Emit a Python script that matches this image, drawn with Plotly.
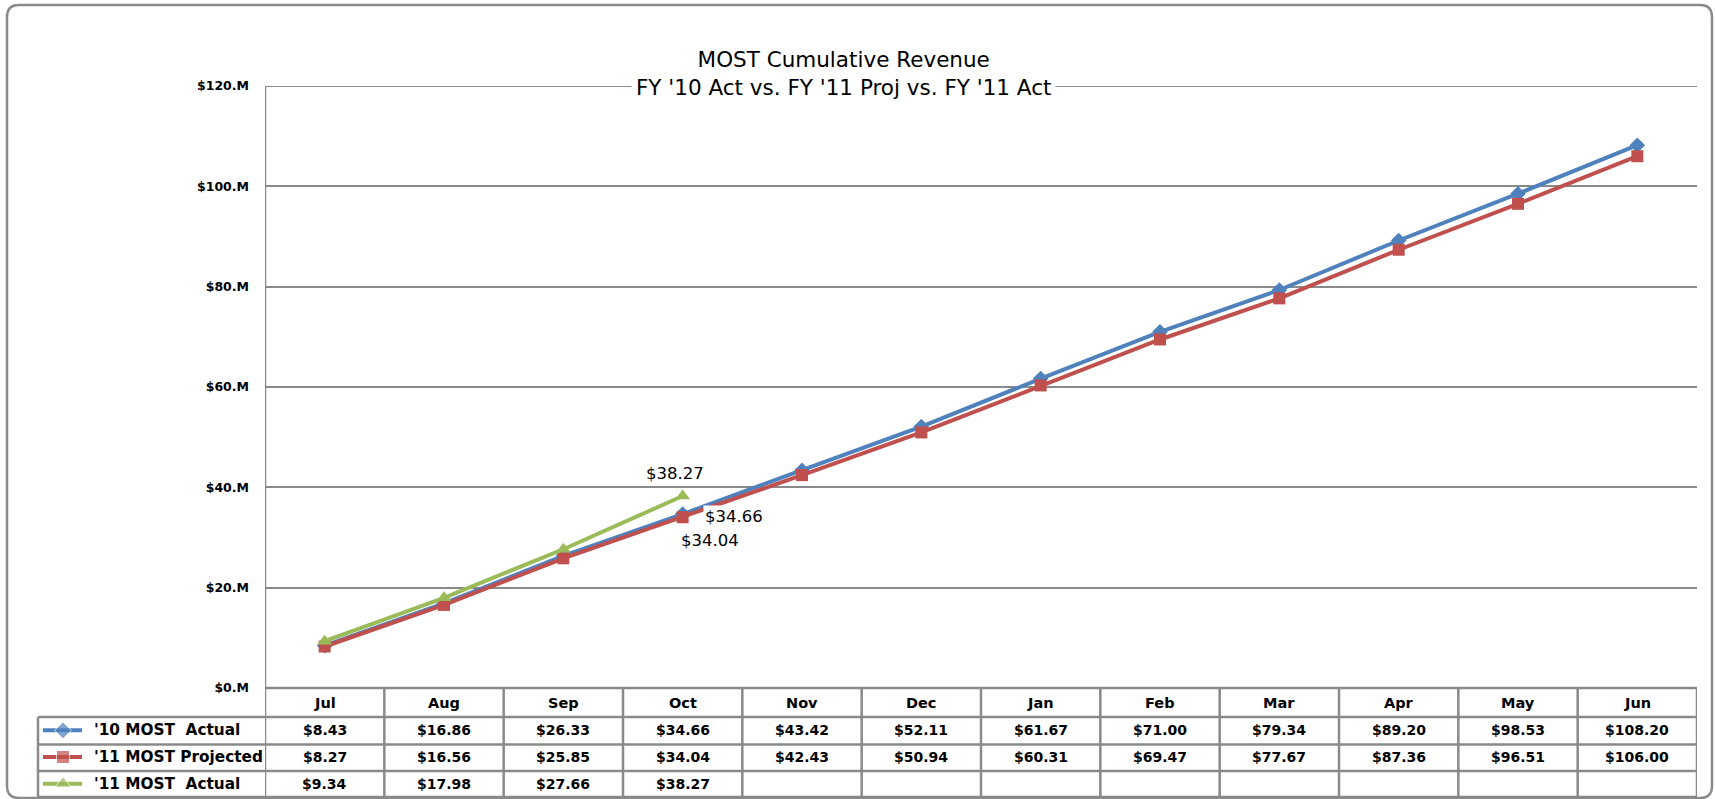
import plotly.graph_objects as go

# ---------------- data ----------------
months = ['Jul', 'Aug', 'Sep', 'Oct', 'Nov', 'Dec', 'Jan', 'Feb', 'Mar', 'Apr', 'May', 'Jun']
fy10_actual = [8.43, 16.86, 26.33, 34.66, 43.42, 52.11, 61.67, 71.00, 79.34, 89.20, 98.53, 108.20]
fy11_projected = [8.27, 16.56, 25.85, 34.04, 42.43, 50.94, 60.31, 69.47, 77.67, 87.36, 96.51, 106.00]
fy11_actual = [9.34, 17.98, 27.66, 38.27]
series_names = ["'10 MOST  Actual", "'11 MOST Projected", "'11 MOST  Actual"]
ytick_vals = [0, 20, 40, 60, 80, 100, 120]
ytick_text = ['$0.M', '$20.M', '$40.M', '$60.M', '$80.M', '$100.M', '$120.M']
title_lines = ['MOST Cumulative Revenue', "FY '10 Act vs. FY '11 Proj vs. FY '11 Act"]

# ---------------- styling ----------------
W, H = 1715, 799
BLUE, RED, GREEN = '#4F81BD', '#C0504D', '#9BBB59'
GRID = '#8a8a8a'
FONT = 'DejaVu Sans'

def px(x):
    return x / W

def py(y):
    return 1 - y / H

PLOT_L, PLOT_R = 265, 1697
PLOT_T, PLOT_B = 86, 688
ROW_T, ROW_B = 717, 797
LEG_L = 38

series = [fy10_actual, fy11_projected, fy11_actual]
colors = [BLUE, RED, GREEN]
symbols = ['diamond', 'square', 'triangle-up']
msizes = [12, 12, 13]

fig = go.Figure()

for name, vals, col, sym, ms in zip(series_names, series, colors, symbols, msizes):
    fig.add_trace(go.Scatter(
        x=list(range(len(vals))), y=vals, name=name, mode='lines+markers',
        line=dict(color=col, width=4),
        marker=dict(symbol=sym, size=ms, color=col),
        showlegend=False, hoverinfo='skip', xaxis='x', yaxis='y'))

# legend icons inside the table's first column
for i, (col, sym, ms) in enumerate(zip(colors, symbols, msizes)):
    fig.add_trace(go.Scatter(
        x=[5, 25, 44], y=[i, i, i], mode='lines+markers',
        line=dict(color=col, width=4),
        marker=dict(symbol=sym, size=[0, ms + 1, 0], color=col),
        showlegend=False, hoverinfo='skip', xaxis='x2', yaxis='y2'))

shapes = []
line_style = dict(color=GRID, width=2.5)
# top gridline of the plot area
shapes.append(dict(type='line', xref='paper', yref='y', x0=px(PLOT_L), x1=px(PLOT_R),
                   y0=ytick_vals[-1], y1=ytick_vals[-1], line=dict(color=GRID, width=2)))
# horizontal table lines
shapes.append(dict(type='line', xref='paper', yref='paper', x0=px(PLOT_L), x1=px(PLOT_R),
                   y0=py(PLOT_B), y1=py(PLOT_B), line=line_style))
for yy in [717, 744.5, 771, 797]:
    shapes.append(dict(type='line', xref='paper', yref='paper', x0=px(LEG_L), x1=px(PLOT_R),
                       y0=py(yy), y1=py(yy), line=line_style))
# vertical table lines
shapes.append(dict(type='line', xref='paper', yref='paper', x0=px(LEG_L), x1=px(LEG_L),
                   y0=py(ROW_T), y1=py(ROW_B), line=line_style))
for k in range(len(months) + 1):
    y0 = PLOT_T if k == 0 else PLOT_B
    shapes.append(dict(type='line', xref='x', yref='paper', x0=k - 0.5, x1=k - 0.5,
                       y0=py(y0), y1=py(ROW_B), line=line_style))

# rounded outer frame
r = 12
fl, fr, ft, fb = 7, 1712, 5, 798
path = (f"M {px(fl)},{py(ft + r)} Q {px(fl)},{py(ft)} {px(fl + r)},{py(ft)} "
        f"L {px(fr - r)},{py(ft)} Q {px(fr)},{py(ft)} {px(fr)},{py(ft + r)} "
        f"L {px(fr)},{py(fb - r)} Q {px(fr)},{py(fb)} {px(fr - r)},{py(fb)} "
        f"L {px(fl + r)},{py(fb)} Q {px(fl)},{py(fb)} {px(fl)},{py(fb - r)} Z")
shapes.append(dict(type='path', xref='paper', yref='paper', path=path,
                   line=dict(color=GRID, width=2.5)))

annotations = []
# title
annotations.append(dict(text='<br>'.join(title_lines), xref='paper', yref='paper',
                        x=px(843), y=py(73), xanchor='center', yanchor='middle',
                        showarrow=False, bgcolor='white', borderpad=4,
                        font=dict(family=FONT, size=21.5, color='black')))
# header months
for i, m in enumerate(months):
    annotations.append(dict(text=m, xref='x', yref='paper', x=i, y=py(703),
                            showarrow=False, xanchor='center', yanchor='middle',
                            font=dict(family=FONT, size=14.5, color='black', weight='bold')))
# row labels and values
for r_i, (name, vals) in enumerate(zip(series_names, series)):
    annotations.append(dict(text=name.replace('  ', '\u00a0 '), xref='paper', yref='y2',
                            x=px(92), y=r_i, showarrow=False, xanchor='left', yanchor='middle',
                            font=dict(family=FONT, size=15.3, color='black', weight='bold')))
    for i, v in enumerate(vals):
        annotations.append(dict(text=f'${v:.2f}', xref='x', yref='y2', x=i, y=r_i,
                                showarrow=False, xanchor='center', yanchor='middle',
                                font=dict(family=FONT, size=14, color='black', weight='bold')))

# data labels near October
oct_i = 3
annotations.append(dict(text=f'${fy11_actual[oct_i]:.2f}', xref='x', yref='y', x=oct_i,
                        y=fy11_actual[oct_i], showarrow=False, xshift=-8, yshift=23,
                        font=dict(family=FONT, size=16.5, color='black')))
annotations.append(dict(text=f'${fy10_actual[oct_i]:.2f}', xref='x', yref='y', x=oct_i,
                        y=fy10_actual[oct_i], showarrow=False, xshift=51, yshift=-2,
                        bgcolor='white', font=dict(family=FONT, size=16.5, color='black')))
annotations.append(dict(text=f'${fy11_projected[oct_i]:.2f}', xref='x', yref='y', x=oct_i,
                        y=fy11_projected[oct_i], showarrow=False, xshift=27, yshift=-23,
                        font=dict(family=FONT, size=16.5, color='black')))

fig.update_layout(
    width=W, height=H, autosize=False,
    margin=dict(l=0, r=0, t=0, b=0, pad=0, autoexpand=False),
    paper_bgcolor='white', plot_bgcolor='white',
    showlegend=False,
    xaxis=dict(domain=[px(PLOT_L), px(PLOT_R)], range=[-0.5, len(months) - 0.5],
               showgrid=False, zeroline=False, showticklabels=False, showline=False,
               automargin=False, fixedrange=True),
    yaxis=dict(domain=[py(PLOT_B), py(PLOT_T)], range=[0, 120],
               tickvals=ytick_vals, ticktext=ytick_text,
               showgrid=True, gridcolor=GRID, gridwidth=2, zeroline=False,
               showline=False, ticks='', ticklabelstandoff=15, automargin=False,
               tickfont=dict(family=FONT, size=12.5, color='black', weight='bold'),
               fixedrange=True),
    xaxis2=dict(domain=[px(LEG_L), px(PLOT_L)], range=[0, PLOT_L - LEG_L], anchor='y2',
                visible=False, automargin=False, fixedrange=True),
    yaxis2=dict(domain=[py(ROW_B), py(ROW_T)], range=[2.5, -0.5], anchor='x2',
                visible=False, automargin=False, fixedrange=True),
    shapes=shapes,
    annotations=annotations,
)

fig.write_html('out.html',
               config={'displayModeBar': False, 'responsive': False},
               post_script="document.body.style.margin='0px';document.body.style.overflow='hidden';")
